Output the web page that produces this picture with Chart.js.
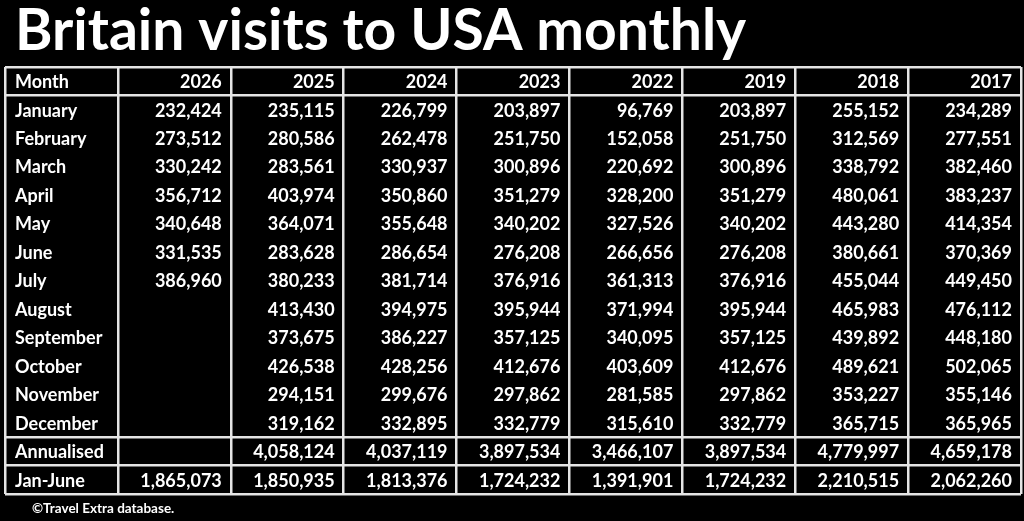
<!DOCTYPE html>
<html>
<head>
<meta charset="utf-8">
<script src="https://cdn.jsdelivr.net/npm/chart.js@4"></script>
<style>
  html, body { margin: 0; padding: 0; background: #000; }
  canvas { display: block; }
</style>
</head>
<body>
<canvas id="myChart" width="1024" height="521"></canvas>
<script>
const ctx = document.getElementById('myChart').getContext('2d');

const years = ['2026', '2025', '2024', '2023', '2022', '2019', '2018', '2017'];
const months = ['January', 'February', 'March', 'April', 'May', 'June', 'July',
    'August', 'September', 'October', 'November', 'December'];

const v2026 = [232424, 273512, 330242, 356712, 340648, 331535, 386960, null, null, null, null, null];
const v2025 = [235115, 280586, 283561, 403974, 364071, 283628, 380233, 413430, 373675, 426538, 294151, 319162];
const v2024 = [226799, 262478, 330937, 350860, 355648, 286654, 381714, 394975, 386227, 428256, 299676, 332895];
const v2023 = [203897, 251750, 300896, 351279, 340202, 276208, 376916, 395944, 357125, 412676, 297862, 332779];
const v2022 = [96769, 152058, 220692, 328200, 327526, 266656, 361313, 371994, 340095, 403609, 281585, 315610];
const v2019 = [203897, 251750, 300896, 351279, 340202, 276208, 376916, 395944, 357125, 412676, 297862, 332779];
const v2018 = [255152, 312569, 338792, 480061, 443280, 380661, 455044, 465983, 439892, 489621, 353227, 365715];
const v2017 = [234289, 277551, 382460, 383237, 414354, 370369, 449450, 476112, 448180, 502065, 355146, 365965];

const annualised = [null, 4058124, 4037119, 3897534, 3466107, 3897534, 4779997, 4659178];
const janJune = [1865073, 1850935, 1813376, 1724232, 1391901, 1724232, 2210515, 2062260];

const monthly = [v2026, v2025, v2024, v2023, v2022, v2019, v2018, v2017];

const columns = ['Month', ...years];
const rows = ['Month', ...months, 'Annualised', 'Jan-June'];

const FONT = 'Lato, "Open Sans", sans-serif';
const LINE = '#e4e4e4';

// one dataset per year column, each cell is a point on the category grid
const datasets = years.map((yr, i) => {
    const pts = [];
    monthly[i].forEach((v, m) => {
        if (v !== null) pts.push({x: yr, y: months[m], v: v});
    });
    if (annualised[i] !== null) pts.push({x: yr, y: 'Annualised', v: annualised[i]});
    if (janJune[i] !== null) pts.push({x: yr, y: 'Jan-June', v: janJune[i]});
    return {label: yr, data: pts, pointRadius: 0, pointHoverRadius: 0};
});

const tableText = {
    id: 'tableText',
    afterDatasetsDraw(chart) {
        const c = chart.ctx;
        const xs = chart.scales.x;
        const ys = chart.scales.y;
        const half = xs.width / columns.length / 2;
        c.save();
        c.fillStyle = '#fff';
        c.font = 'bold 18px ' + FONT;
        c.textBaseline = 'middle';

        // header row
        c.textAlign = 'right';
        for (let i = 1; i < columns.length; i++) {
            c.fillText(columns[i], xs.getPixelForValue(i) + half - 9, ys.getPixelForValue(0) + 1);
        }
        // first column
        c.textAlign = 'left';
        rows.forEach((r, j) => {
            c.fillText(r, xs.getPixelForValue(0) - half + 10, ys.getPixelForValue(j) + 1);
        });
        // values
        c.textAlign = 'right';
        chart.data.datasets.forEach((ds, di) => {
            const meta = chart.getDatasetMeta(di);
            meta.data.forEach((el, k) => {
                c.fillText(ds.data[k].v.toLocaleString('en-US'), el.x + half - 9, el.y + 1);
            });
        });
        c.restore();
    },
    afterDraw(chart) {
        const c = chart.ctx;
        c.save();
        c.fillStyle = '#fff';
        c.textAlign = 'left';
        c.textBaseline = 'alphabetic';
        c.font = 'bold 57px ' + FONT;
        c.fillText('Britain visits to USA monthly', 15, 50);
        c.font = 'bold 13.5px ' + FONT;
        c.fillText('©Travel Extra database.', 32, 513);
        c.restore();
    }
};

const keepLines = [0, 1, 13, 14];

const chart = new Chart(ctx, {
    type: 'scatter',
    data: {datasets: datasets},
    options: {
        responsive: false,
        animation: false,
        events: [],
        layout: {padding: {top: 67, bottom: 27, left: 5, right: 3}},
        plugins: {legend: {display: false}, tooltip: {enabled: false}},
        scales: {
            x: {
                type: 'category',
                labels: columns,
                offset: true,
                ticks: {display: false},
                border: {display: false},
                grid: {offset: true, drawTicks: false, color: LINE, lineWidth: 2.5},
            },
            y: {
                type: 'category',
                labels: rows,
                offset: true,
                ticks: {display: false},
                border: {display: false},
                grid: {
                    offset: true,
                    drawTicks: false,
                    lineWidth: 2.5,
                    color: (c) => (c.index === undefined || keepLines.includes(c.index)) ? LINE : 'transparent',
                },
            },
        },
    },
    plugins: [tableText],
});
</script>
</body>
</html>
